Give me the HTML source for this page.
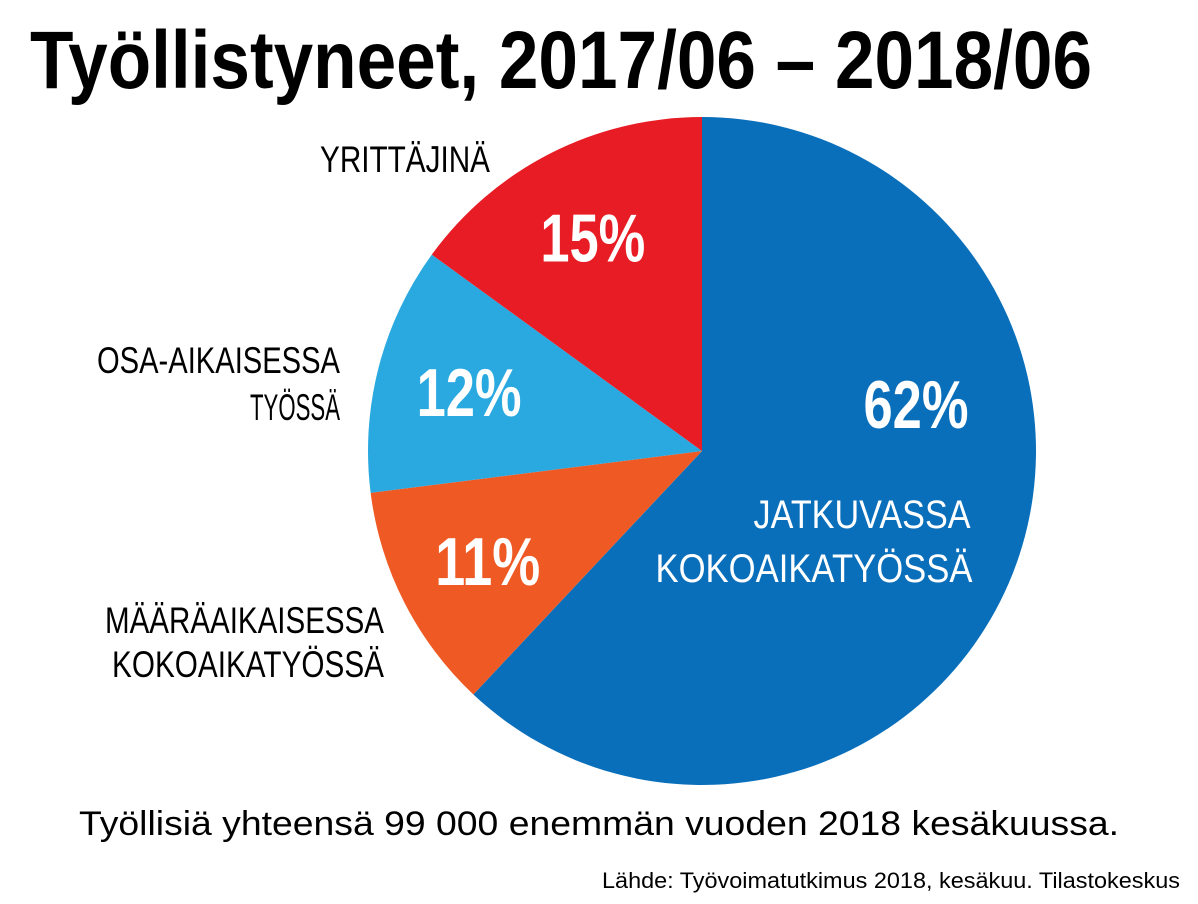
<!DOCTYPE html>
<html><head><meta charset="utf-8"><style>
body{margin:0;width:1198px;height:899px;background:#fff;overflow:hidden;font-family:"Liberation Sans Narrow","Liberation Sans",sans-serif}
svg text{font-family:"Liberation Sans Narrow","Liberation Sans",sans-serif}
</style></head><body>
<svg id="chart" width="1198" height="899" viewBox="0 0 1198 899">
<text x="30" y="88" font-size="82" font-weight="bold" fill="#000" textLength="1062" lengthAdjust="spacingAndGlyphs">Työllistyneet, 2017/06 – 2018/06</text>
<g id="slices"></g>
<g id="labels"></g>
<text x="599" y="835" font-size="34" text-anchor="middle" fill="#000" textLength="1040" lengthAdjust="spacingAndGlyphs">Työllisiä yhteensä 99 000 enemmän vuoden 2018 kesäkuussa.</text>
<text x="1180" y="888" font-size="22" text-anchor="end" fill="#000" textLength="578" lengthAdjust="spacingAndGlyphs">Lähde: Työvoimatutkimus 2018, kesäkuu. Tilastokeskus</text>
</svg>
<script>
const categories=["JATKUVASSA KOKOAIKATYÖSSÄ","MÄÄRÄAIKAISESSA KOKOAIKATYÖSSÄ","OSA-AIKAISESSA TYÖSSÄ","YRITTÄJINÄ"];
const values=[62,11,12,15];
const colors=["#0a6fbb","#ef5a24","#2aa9e0","#e81c24"];
const cx=702,cy=451,r=334;
const ns="http://www.w3.org/2000/svg";
const total=values.reduce((a,b)=>a+b,0);
function pt(a,rad){return [cx+rad*Math.sin(a),cy-rad*Math.cos(a)];}
let a0=0;
const sg=document.getElementById('slices'),lg=document.getElementById('labels');
values.forEach((v,i)=>{
 const a1=a0+v/total*2*Math.PI;
 const p0=pt(a0,r),p1=pt(a1,r);
 const p=document.createElementNS(ns,'path');
 p.setAttribute('d',`M${cx},${cy}L${p0[0]},${p0[1]}A${r},${r} 0 ${a1-a0>Math.PI?1:0} 1 ${p1[0]},${p1[1]}Z`);
 p.setAttribute('fill',colors[i]);
 
 
 sg.appendChild(p);
 const m=(a0+a1)/2;
 let q=pt(m,r*0.72);
 if(i===0)q=[cx+214,cy-48];
 const t=document.createElementNS(ns,'text');
 t.setAttribute('x',q[0]);t.setAttribute('y',q[1]+25);
 t.setAttribute('font-size','68');t.setAttribute('font-weight','bold');
 t.setAttribute('fill','#fff');t.setAttribute('text-anchor','middle');
 t.setAttribute('textLength',String(v).length*35+35);
 t.setAttribute('lengthAdjust','spacingAndGlyphs');
 t.textContent=v+'%';
 
 
 lg.appendChild(t);
 a0=a1;
});
const catLines=[[[862,528,"#fff","middle","JATKUVASSA",217,40],[814,582,"#fff","middle","KOKOAIKATYÖSSÄ",317,40]],
[[384,633,"#000","end","MÄÄRÄAIKAISESSA",279,37],[384,677,"#000","end","KOKOAIKATYÖSSÄ",272,37]],
[[340,373,"#000","end","OSA-AIKAISESSA",243,37],[340,420,"#000","end","TYÖSSÄ",90,37]],
[[490,172,"#000","end","YRITTÄJINÄ",170,37]]];
catLines.forEach((ls,i)=>ls.forEach(l=>{
 const t=document.createElementNS(ns,'text');
 t.setAttribute('x',l[0]);t.setAttribute('y',l[1]);t.setAttribute('font-size',l[6]);
 t.setAttribute('fill',l[2]);t.setAttribute('text-anchor',l[3]);t.textContent=l[4];
 t.setAttribute('textLength',l[5]);t.setAttribute('lengthAdjust','spacingAndGlyphs');
 
 
 lg.appendChild(t);
}));
</script>
</body></html>
